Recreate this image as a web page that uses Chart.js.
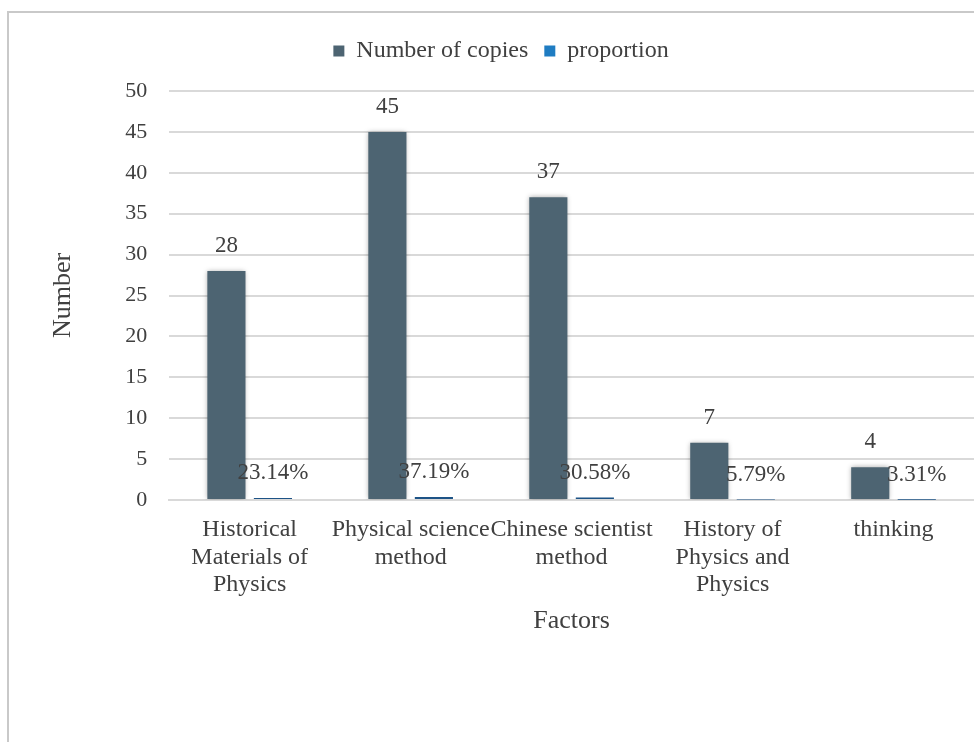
<!DOCTYPE html>
<html>
<head>
<meta charset="utf-8">
<script src="https://cdn.jsdelivr.net/npm/chart.js@4.4.1/dist/chart.umd.min.js"></script>
<style>
    html, body { margin: 0; padding: 0; background: #fff; overflow: hidden; }
    .frame {
        position: absolute; left: 7px; top: 11px; width: 1100px; height: 1000px;
        border-left: 2px solid #c9c9c9; border-top: 2px solid #c9c9c9;
    }
    .wrap { position: absolute; left: 0; top: 0; width: 974px; height: 742px; }
</style>
</head>
<body>
<div class="frame"></div>
<div class="wrap"><canvas id="chart"></canvas></div>
<script>
    const FACTORS = [
        ["Historical", "Materials of", "Physics"],
        ["Physical science", "method"],
        ["Chinese scientist", "method"],
        ["History of", "Physics and", "Physics"],
        ["thinking"],
    ];
    const COPIES = [28, 45, 37, 7, 4];
    const PROPORTION = [0.2314, 0.3719, 0.3058, 0.0579, 0.0331];
    const Y_TICKS = [0, 5, 10, 15, 20, 25, 30, 35, 40, 45, 50];

    const TEXT = "#404040";
    const FONT = "'Liberation Serif', 'Times New Roman', serif";

    // value labels above each bar
    const valueLabels = {
        id: "valueLabels",
        afterDatasetsDraw(chart) {
            const ctx = chart.ctx;
            ctx.save();
            ctx.font = "23px " + FONT;
            ctx.fillStyle = TEXT;
            ctx.textAlign = "center";
            ctx.textBaseline = "middle";
            chart.data.datasets.forEach((ds, i) => {
                chart.getDatasetMeta(i).data.forEach((bar, j) => {
                    const v = ds.data[j];
                    const txt = i === 0 ? String(v) : (v * 100).toFixed(2) + "%";
                    ctx.fillText(txt, bar.x, bar.y - 25);
                });
            });
            ctx.restore();
        },
    };

    // soft glow round the copies bars
    const barShadow = {
        id: "barShadow",
        beforeDatasetDraw(chart, args) {
            if (args.index !== 0) return;
            chart.ctx.save();
            chart.ctx.shadowColor = "rgba(0,0,0,0.35)";
            chart.ctx.shadowBlur = 5;
        },
        afterDatasetDraw(chart, args) {
            if (args.index !== 0) return;
            chart.ctx.restore();
        },
    };

    // more room under the legend
    const legendGap = {
        id: "legendGap",
        beforeInit(chart) {
            const fit = chart.legend.fit;
            chart.legend.fit = function () {
                fit.bind(chart.legend)();
                this.height += 18;
            };
        },
    };

    new Chart(document.getElementById("chart"), {
        type: "bar",
        data: {
            labels: FACTORS,
            datasets: [
                {
                    label: "Number of copies",
                    data: COPIES,
                    backgroundColor: "#4d6472",
                    categoryPercentage: 0.578,
                    barPercentage: 0.82,
                },
                {
                    label: "proportion",
                    data: PROPORTION,
                    backgroundColor: "#1d5386",
                    categoryPercentage: 0.578,
                    barPercentage: 0.82,
                },
            ],
        },
        options: {
            responsive: true,
            maintainAspectRatio: false,
            animation: false,
            layout: { padding: { top: 23, left: 28, right: 0, bottom: 101 } },
            plugins: {
                legend: {
                    position: "top",
                    labels: {
                        boxWidth: 11,
                        boxHeight: 11,
                        padding: 16,
                        color: TEXT,
                        font: { family: FONT, size: 24 },
                        generateLabels(chart) {
                            const items = Chart.defaults.plugins.legend.labels.generateLabels(chart);
                            items[1].fillStyle = "#1f7cc2";
                            items[1].strokeStyle = "#1f7cc2";
                            return items;
                        },
                    },
                },
                tooltip: { enabled: false },
            },
            scales: {
                x: {
                    grid: { display: false },
                    border: { color: "#d9d9d9", width: 2 },
                    ticks: {
                        color: TEXT,
                        font: { family: FONT, size: 24, lineHeight: 1.15 },
                        padding: 8,
                        maxRotation: 0,
                        autoSkip: false,
                    },
                    title: {
                        display: true,
                        text: "Factors",
                        color: TEXT,
                        font: { family: FONT, size: 26 },
                        padding: { top: -1, bottom: 4 },
                    },
                },
                y: {
                    min: 0,
                    max: 50,
                    afterBuildTicks(scale) {
                        scale.ticks = Y_TICKS.map((v) => ({ value: v }));
                    },
                    grid: { color: "#d9d9d9", lineWidth: 2, drawTicks: false },
                    border: { display: false },
                    ticks: {
                        color: TEXT,
                        font: { family: FONT, size: 22 },
                        padding: 22,
                    },
                    title: {
                        display: true,
                        text: "Number",
                        color: TEXT,
                        font: { family: FONT, size: 26 },
                        padding: { top: 20, bottom: 24 },
                    },
                },
            },
        },
        plugins: [legendGap, barShadow, valueLabels],
    });
</script>
</body>
</html>
